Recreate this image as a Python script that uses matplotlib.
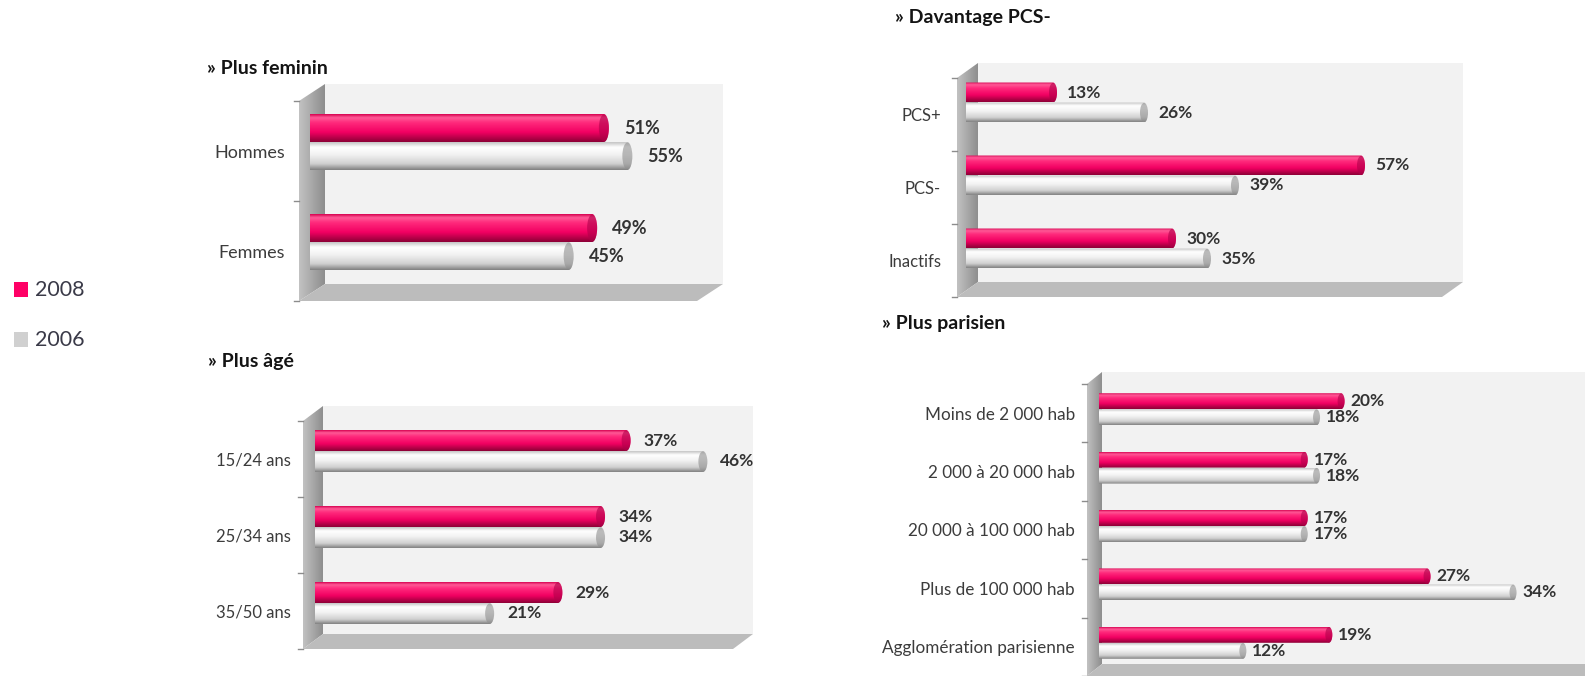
import numpy as np
import matplotlib.pyplot as plt
from matplotlib.colors import LinearSegmentedColormap
from matplotlib.patches import Polygon, PathPatch, Ellipse, Rectangle
from matplotlib.path import Path

plt.rcParams['font.family'] = ['Lato', 'DejaVu Sans']

# données
fem_cats = ['Hommes', 'Femmes']
fem_2008 = [51, 49]
fem_2006 = [55, 45]

pcs_cats = ['PCS+', 'PCS-', 'Inactifs']
pcs_2008 = [13, 57, 30]
pcs_2006 = [26, 39, 35]

age_cats = ['15/24 ans', '25/34 ans', '35/50 ans']
age_2008 = [37, 34, 29]
age_2006 = [46, 34, 21]

par_cats = ['Moins de 2 000 hab', '2 000 à 20 000 hab', '20 000 à 100 000 hab',
            'Plus de 100 000 hab', 'Agglomération parisienne']
par_2008 = [20, 17, 17, 27, 19]
par_2006 = [18, 18, 17, 34, 12]

titles = ['» Plus feminin', '» Davantage PCS-', '» Plus âgé', '» Plus parisien']
years = ['2008', '2006']

W, H = 1585, 676
fig = plt.figure(figsize=(W / 100, H / 100), dpi=100)
bg = fig.add_axes([0, 0, 1, 1])
bg.set_xlim(0, W)
bg.set_ylim(H, 0)
bg.axis('off')

pink_cm = LinearSegmentedColormap.from_list(
    'pk', [(0, '#d6004f'), (0.12, '#ff5c98'), (0.3, '#ff2a7c'), (0.65, '#f20062'), (1, '#8c0036')])
grey_cm = LinearSegmentedColormap.from_list(
    'gr', [(0, '#c4c4c4'), (0.18, '#ffffff'), (0.45, '#f2f2f2'), (0.78, '#d0d0d0'), (1, '#808080')])
wall_cm = LinearSegmentedColormap.from_list('wl', ['#c2c2c2', '#8e8e8e'])
grad = np.linspace(0, 1, 100).reshape(-1, 1)


def cylinders(ax, rects, cmap, capc, rx):
    for r in rects:
        x, y, w, h = r.get_x(), r.get_y(), r.get_width(), r.get_height()
        t = np.linspace(-np.pi / 2, np.pi / 2, 40)
        ex = x + w - rx + rx * np.cos(t)
        ey = y + h / 2 + h / 2 * np.sin(t)
        verts = [(x, y)] + list(zip(ex, ey)) + [(x, y + h), (x, y)]
        codes = [Path.MOVETO] + [Path.LINETO] * (len(verts) - 2) + [Path.CLOSEPOLY]
        pp = PathPatch(Path(verts, codes), fc='none', ec='none')
        ax.add_patch(pp)
        im = ax.imshow(grad, extent=(x, x + w, y, y + h), origin='lower', aspect='auto',
                       cmap=cmap, interpolation='bicubic', zorder=2)
        im.set_clip_path(pp)
        ax.add_patch(Ellipse((x + w - rx, y + h / 2), 2 * rx, h * 0.96, fc=capc,
                             ec='none', alpha=0.6, zorder=3))


def panel(cats, v08, v06, title, tx, ty, xo, yt, yb, dx, dy, xr, x0, scale,
          off, bh, rx, lab_fs, val_fs, gap, lab_x):
    n = len(cats)
    # murs 3D
    bg.add_patch(Rectangle((xo + dx, yt + dy), xr - xo - dx, yb - yt, fc='#f2f2f2', ec='none'))
    side = Polygon([(xo, yt), (xo + dx, yt + dy), (xo + dx, yb + dy), (xo, yb)],
                   closed=True, fc='none', ec='none')
    bg.add_patch(side)
    im = bg.imshow(grad.T, extent=(xo, xo + dx, yb, yt + dy), aspect='auto', cmap=wall_cm,
                   interpolation='bicubic', zorder=1)
    im.set_clip_path(side)
    bg.add_patch(Polygon([(xo, yb), (xo + dx, yb + dy), (xr, yb + dy), (xr - dx, yb)],
                         closed=True, fc='#bcbcbc', ec='none', zorder=1))
    for k in range(n + 1):
        yk = yt + k * (yb - yt) / n
        bg.plot([xo - 5, xo], [yk, yk], color='#8c8c8c', lw=1)
    bg.text(tx, ty, title, fontsize=14, fontweight='bold', color='#141414',
            ha='left', va='center')

    ax = fig.add_axes([x0 / W, 1 - yb / H, (xr - x0) / W, (yb - yt) / H])
    ax.patch.set_visible(False)
    unit = (yb - yt) / n
    pos = np.arange(n)
    y08 = pos + (off - bh / 2) / unit
    y06 = pos + (off + bh / 2) / unit
    r08 = ax.barh(y08, v08, height=bh / unit, color='none')
    r06 = ax.barh(y06, v06, height=bh / unit, color='none')
    cylinders(ax, r08, pink_cm, '#b0004a', rx / scale)
    cylinders(ax, r06, grey_cm, '#8f8f8f', rx / scale)
    for yy, vals in ((y08, v08), (y06, v06)):
        for y, v in zip(yy, vals):
            ax.text(v + gap / scale, y, f'{v}%', fontsize=val_fs, fontweight='bold',
                    color='#333333', ha='left', va='center')
    ax.set_xlim(0, (xr - x0) / scale)
    ax.set_ylim(n - 0.5, -0.5)
    ax.set_yticks(pos)
    ax.set_yticklabels(cats)
    ax.tick_params(axis='y', length=0, pad=(x0 - lab_x) * 0.72, labelsize=lab_fs,
                   labelcolor='#3c3c3c')
    ax.set_xticks([])
    for s in ax.spines.values():
        s.set_visible(False)


panel(fem_cats, fem_2008, fem_2006, titles[0], 207, 69,
      299, 101, 301, 26, -17, 723, 309.5, 5.87, -9, 28, 5, 13, 13, 15, 285)
panel(pcs_cats, pcs_2008, pcs_2006, titles[1], 895, 18,
      957, 78, 297, 21, -15, 1463, 966, 7.0, -12, 20, 4, 12, 12.5, 10, 941)
panel(age_cats, age_2008, age_2006, titles[2], 208, 361,
      303, 421, 649, 20, -15, 753, 315, 8.53, -8, 21, 4.5, 12, 12.5, 13, 291)
panel(par_cats, par_2008, par_2006, titles[3], 882, 323,
      1087, 384, 676, 15, -12, 1600, 1099, 12.28, -4, 16, 3.5, 12.3, 12.5, 6, 1075)

# légende
for (yy, c, lab) in ((289.5, '#ff0066', years[0]), (339.5, '#d0d0d0', years[1])):
    bg.add_patch(Rectangle((14, yy - 7.5), 14, 15, fc=c, ec='none'))
    bg.text(35, yy, lab, fontsize=15.5, color='#3a3a48', ha='left', va='center')

fig.savefig('out.png', dpi=100)
